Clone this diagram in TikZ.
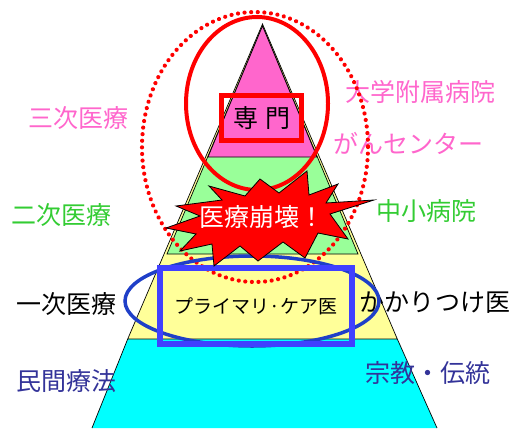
\documentclass[tikz,border=0pt]{standalone}
\usepackage{fontspec}
\newfontfamily\jp{Noto Sans CJK JP}
\definecolor{pk}{HTML}{FF66CC}
\definecolor{gf}{HTML}{99FF99}
\definecolor{gt}{HTML}{33CC33}
\definecolor{yf}{HTML}{FFFF99}
\definecolor{cy}{HTML}{00FFFF}
\definecolor{nv}{HTML}{333399}
\definecolor{blA}{HTML}{1F3FC8}
\definecolor{blB}{HTML}{4040FF}
\begin{document}
\begin{tikzpicture}[x=1pt,y=-1pt,
  lbl/.style={font=\jp\fontsize{25}{25}\selectfont, inner sep=0pt, anchor=center},
  layer/.style={draw=black, line width=0.7pt},
  redline/.style={draw=red, line width=4pt},
  dotline/.style={draw=red, line width=4.2pt, line cap=round, dash pattern=on 0.01pt off 6.6pt},
]
\useasboundingbox (0,0) rectangle (518,428);
% pyramid layers
\fill[cy] (127.7,339) -- (397.3,339) -- (437,428) -- (92,428) -- cycle;
\draw[black, line width=0.7pt] (127.7,339) -- (92,428);
\draw[black, line width=0.7pt] (397.3,339) -- (437,428);
\filldraw[fill=yf, layer] (262.5,24) -- (397.3,339) -- (127.7,339) -- cycle;
\filldraw[fill=gf, layer] (262.5,26) -- (358,254) -- (167,254) -- cycle;
\filldraw[fill=pk, layer] (262.5,26) -- (317,157) -- (208,157) -- cycle;
% side labels
\node[lbl, text=pk] (t3) at (78.5,118) {三次医療};
\node[lbl, text=pk] (u1) at (420,92) {大学附属病院};
\node[lbl, text=pk] (u2) at (408.5,143) {がんセンター};
\node[lbl, text=gt] (t2) at (61,215) {二次医療};
\node[lbl, text=gt] (u3) at (426.5,211) {中小病院};
\node[lbl, text=black] (t1) at (66.5,304) {一次医療};
\node[lbl, text=black] (u4) at (435,303) {かかりつけ医};
\node[lbl, text=nv] (t0) at (66.5,381) {民間療法};
\node[lbl, text=nv] (u5) at (428,373) {宗教・伝統};
% ellipses
\draw[dotline] (255,147) ellipse [x radius=113, y radius=135];
\draw[redline] (257,103.5) ellipse [x radius=71, y radius=86.5];
% specialist box
\node[lbl, text=black, minimum width=80pt, minimum height=45pt, draw=red, line width=5.5pt] (sp) at (261.5,118) {専\hspace{7pt}門};
% primary care
\draw[blA, line width=3.5pt] (252,301) ellipse [x radius=127, y radius=45];
\node[font=\jp\fontsize{19}{19}\selectfont, inner sep=0pt, minimum width=192pt, minimum height=76pt, draw=blB, line width=6pt] (pc) at (256,306) {プライマリ·ケア医};
% starburst
\filldraw[fill=red, draw=black, line width=0.8pt]
 (307,171) -- (309,195) -- (338,184) -- (326,203) -- (374,200) -- (330,214) -- (348,239) -- (318,233) -- (305,258) -- (283,242) -- (258,261) -- (240,246) -- (214,266) -- (212,244) -- (180,251) -- (196,234) -- (166,228) -- (200,216) -- (176,206) -- (222,200) -- (209,186) -- (245,196) -- (260,179) -- (279,193) -- cycle;
\node[lbl, text=white] (crash) at (262,217) {医療崩壊！};
\end{tikzpicture}
\end{document}
